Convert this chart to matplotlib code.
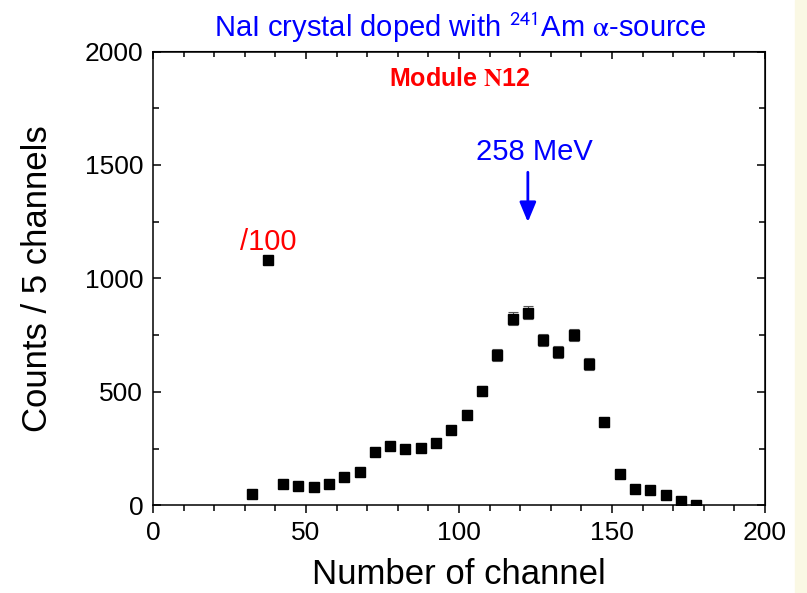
import matplotlib.pyplot as plt
from matplotlib.patches import Rectangle
from matplotlib.ticker import MultipleLocator

plt.rcParams['font.family'] = ['Liberation Sans', 'DejaVu Sans']
plt.rcParams['mathtext.fontset'] = 'stix'

# channel centres (5-channel bins) and counts
channels = [32.5, 37.5, 42.5, 47.5, 52.5, 57.5, 62.5, 67.5, 72.5, 77.5,
            82.5, 87.5, 92.5, 97.5, 102.5, 107.5, 112.5, 117.5, 122.5, 127.5,
            132.5, 137.5, 142.5, 147.5, 152.5, 157.5, 162.5, 167.5, 172.5, 177.5]
counts = [52, 1080, 93, 86, 79, 93, 126, 148, 234, 262,
          250, 253, 273, 333, 400, 502, 661, 823, 848, 727,
          677, 752, 622, 366, 140, 73, 66, 44, 19, 3]
errors = [7, 3, 10, 9, 9, 10, 11, 12, 15, 16,
          16, 16, 17, 18, 20, 22, 26, 29, 29, 27,
          26, 27, 25, 19, 12, 9, 8, 7, 4, 2]

fig = plt.figure(figsize=(8.07, 5.93), dpi=100)
fig.patch.set_facecolor('white')
fig.add_artist(Rectangle((795/807, 0), 12/807, 1, transform=fig.transFigure,
                         color='#FAF8E4', zorder=0))

ax = fig.add_axes([153/807, (593-505.3)/593, (765-153)/807, (505.3-51.5)/593])

ax.errorbar(channels, counts, yerr=errors, fmt='s', color='black', ms=7.2,
            ecolor='#555555', elinewidth=0.8, capsize=3.5, capthick=0.8)

ax.set_xlim(0, 200)
ax.set_ylim(0, 2000)
ax.xaxis.set_major_locator(MultipleLocator(50))
ax.xaxis.set_minor_locator(MultipleLocator(10))
ax.yaxis.set_major_locator(MultipleLocator(500))
ax.yaxis.set_minor_locator(MultipleLocator(250))

for s in ax.spines.values():
    s.set_linewidth(1.1)

ax.tick_params(axis='x', which='both', direction='out', labelsize=19, width=1.1, pad=5)
ax.tick_params(axis='y', which='both', direction='in', labelsize=19, width=1.1, pad=7)
ax.tick_params(which='major', length=6)
ax.tick_params(which='minor', length=4)

top = ax.secondary_xaxis('top')
top.xaxis.set_major_locator(MultipleLocator(50))
top.xaxis.set_minor_locator(MultipleLocator(10))
top.tick_params(which='both', direction='in', labeltop=False, width=1.1)
top.tick_params(which='major', length=6)
top.tick_params(which='minor', length=4)

right = ax.secondary_yaxis('right')
right.yaxis.set_major_locator(MultipleLocator(500))
right.yaxis.set_minor_locator(MultipleLocator(250))
right.tick_params(which='both', direction='in', labelright=False, width=1.1)
right.tick_params(which='major', length=6)
right.tick_params(which='minor', length=4)

ax.set_xlabel('Number of channel', fontsize=25, labelpad=10)
ax.set_ylabel('Counts / 5 channels', fontsize=25, labelpad=22)

fig.text(460/807, (593-28)/593,
         'NaI crystal doped with $^{\\mathsf{241}}$Am $\\mathrm{\\alpha}$-source',
         color='blue', fontsize=21, ha='center', va='center')
ax.text(100.3, 1880, 'Module $\\mathbf{N}$12', color='red', fontsize=18,
        fontweight='bold', ha='center', va='center')
ax.text(37.5, 1100, '/100', color='red', fontsize=21, ha='center', va='bottom')
ax.text(124.5, 1495, '258 MeV', color='blue', fontsize=21, ha='center', va='bottom')
ax.annotate('', xy=(122.5, 1236), xytext=(122.5, 1480),
            arrowprops=dict(arrowstyle='-|>,head_length=0.6,head_width=0.25',
                            color='blue', lw=2, mutation_scale=20))

fig.savefig('out.png', dpi=100)
